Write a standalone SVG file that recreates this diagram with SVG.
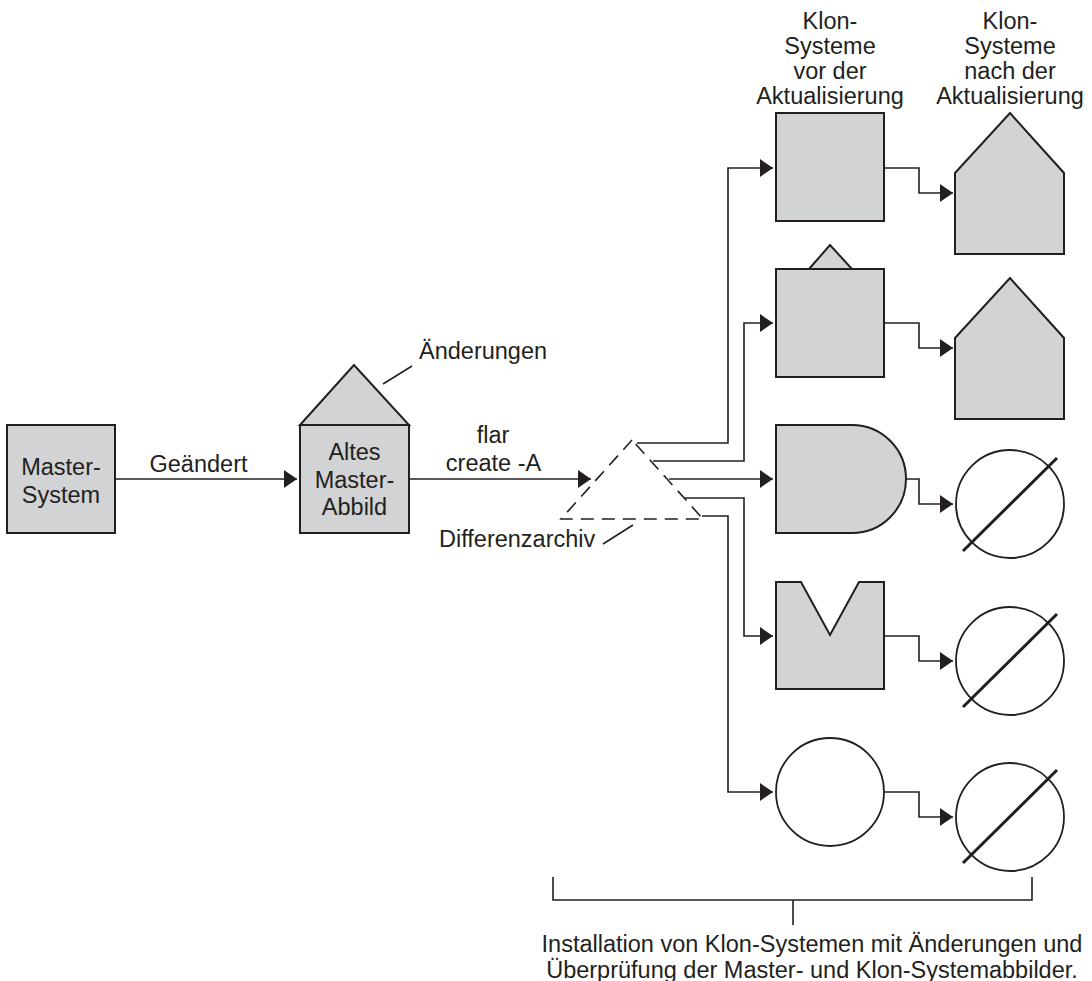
<svg xmlns="http://www.w3.org/2000/svg" width="1092" height="981" viewBox="0 0 1092 981">
<style>
text{font-family:"Liberation Sans",Arial,sans-serif;font-size:23.5px;fill:#231f20}
.m{text-anchor:middle}
.g{fill:#d1d3d4;stroke:#231f20;stroke-width:2}
.w{fill:#fff;stroke:#231f20;stroke-width:1.8}
.c{fill:none;stroke:#231f20;stroke-width:1.6}
.s{stroke:#231f20;stroke-width:3;fill:none}
</style>
<defs>
<marker id="a" markerUnits="userSpaceOnUse" markerWidth="13" markerHeight="18" refX="13" refY="9" orient="auto">
<path d="M0,0 L13,9 L0,18 z" fill="#231f20"/>
</marker>
</defs>
<rect width="1092" height="981" fill="#fff"/>
<g id="connectors">
<path class="c" d="M115,479 H297" marker-end="url(#a)"/>
<path class="c" d="M409,479 H591" marker-end="url(#a)"/>
<path class="c" d="M637,443 H728 V168 H773" marker-end="url(#a)"/>
<path class="c" d="M653,461 H744 V323 H773" marker-end="url(#a)"/>
<path class="c" d="M669,479 H773" marker-end="url(#a)"/>
<path class="c" d="M685,498 H744 V636 H773" marker-end="url(#a)"/>
<path class="c" d="M702,516 H728 V792 H773" marker-end="url(#a)"/>
<path class="c" d="M884,168 H919 V193 H953" marker-end="url(#a)"/>
<path class="c" d="M884,323 H919 V348 H953" marker-end="url(#a)"/>
<path class="c" d="M906,479 H919 V504 H953" marker-end="url(#a)"/>
<path class="c" d="M884,636 H919 V661 H953" marker-end="url(#a)"/>
<path class="c" d="M884,792 H919 V817 H953" marker-end="url(#a)"/>
<path class="c" d="M383,384 L412,366"/>
<path class="c" d="M603,544 L633,525"/>
<path class="c" d="M553,877 V900 H1032 V877 M793,900 V925"/>
</g>
<g id="master">
<rect class="g" x="7" y="425" width="108" height="108"/>
<text class="m" x="61" y="475">Master-</text>
<text class="m" x="61" y="503">System</text>
</g>
<text class="m" x="198.5" y="472">Geändert</text>
<g id="altes">
<polygon class="g" points="300,425 354,365 409,425"/>
<rect class="g" x="300" y="425" width="109" height="108"/>
<text class="m" x="354.5" y="460">Altes</text>
<text class="m" x="354.5" y="488">Master-</text>
<text class="m" x="354.5" y="515">Abbild</text>
</g>
<text x="419" y="359">Änderungen</text>
<text class="m" x="493" y="443">flar</text>
<text class="m" x="493.5" y="471">create -A</text>
<g id="differenzarchiv">
<polygon points="632,440 561,519 703,519" fill="none" stroke="#231f20" stroke-width="1.6" stroke-dasharray="13,8"/>
<text x="439" y="547">Differenzarchiv</text>
</g>
<g id="header-vor">
<text class="m" x="830" y="29">Klon-</text>
<text class="m" x="830" y="54">Systeme</text>
<text class="m" x="830" y="79">vor der</text>
<text class="m" x="830" y="104">Aktualisierung</text>
</g>
<g id="header-nach">
<text class="m" x="1010" y="29">Klon-</text>
<text class="m" x="1010" y="54">Systeme</text>
<text class="m" x="1010" y="79">nach der</text>
<text class="m" x="1010" y="104">Aktualisierung</text>
</g>
<g id="clone1-before"><rect class="g" x="776" y="113" width="108" height="108"/></g>
<g id="clone1-after"><polygon class="g" points="955,173 1010,113 1064,173 1064,254 955,254"/></g>
<g id="clone2-before">
<polygon class="g" points="809,269 830,245 852,269"/>
<rect class="g" x="776" y="269" width="108" height="108"/>
</g>
<g id="clone2-after"><polygon class="g" points="955,338 1010,278 1064,338 1064,419 955,419"/></g>
<g id="clone3-before"><path class="g" d="M776,425 H852 A54,54 0 0 1 852,533 H776 Z"/></g>
<g id="clone3-after">
<circle class="w" cx="1010" cy="504" r="54"/>
<line class="s" x1="963" y1="551" x2="1057" y2="458"/>
</g>
<g id="clone4-before"><polygon class="g" points="776,582 801,582 830,635 859,582 884,582 884,689 776,689"/></g>
<g id="clone4-after">
<circle class="w" cx="1010" cy="661" r="54"/>
<line class="s" x1="963" y1="707" x2="1057" y2="614"/>
</g>
<g id="clone5-before"><circle class="w" cx="830" cy="792" r="54"/></g>
<g id="clone5-after">
<circle class="w" cx="1010" cy="817" r="54"/>
<line class="s" x1="963" y1="863" x2="1057" y2="770"/>
</g>
<g id="caption">
<text class="m" x="812" y="952">Installation von Klon-Systemen mit Änderungen und</text>
<text class="m" x="812" y="978">Überprüfung der Master- und Klon-Systemabbilder.</text>
</g>
</svg>
